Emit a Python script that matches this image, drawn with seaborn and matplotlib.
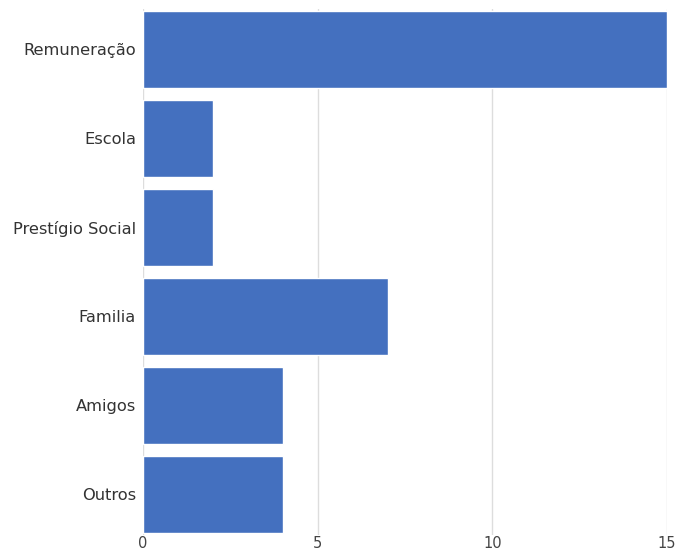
import numpy as np
import pandas as pd
import seaborn as sns
import matplotlib.pyplot as plt

categorias = ["Remuneração", "Escola", "Prestígio Social", "Familia", "Amigos", "Outros"]
valores = [15, 2, 2, 7, 4, 4]
xticks = [0, 5, 10, 15]

df = pd.DataFrame({"categoria": categorias, "valor": valores})

sns.set_theme(style="white")
plt.rcParams['font.family'] = ['DejaVu Sans']

fig = plt.figure(figsize=(6.79, 5.52), dpi=100)
ax = fig.add_axes([0.2106, 0.031, 0.7717, 0.953])

largura = 0.87
sns.barplot(data=df, x="valor", y="categoria", orient="h", color="#4470BF",
            saturation=1, width=largura, ax=ax, zorder=3)

ax.set_xlim(0, 15)
ax.set_ylim(len(categorias) - 1 + largura / 2 + 0.02, -largura / 2 - 0.02)
ax.set_xticks(xticks)
ax.xaxis.grid(True, color="#dddddd", linewidth=1, zorder=0)
ax.yaxis.grid(False)
for s in ax.spines.values():
    s.set_visible(False)
ax.tick_params(axis="y", length=0, pad=5, labelsize=11.7, labelcolor="#333333")
ax.tick_params(axis="x", length=0, pad=1, labelsize=10.5, labelcolor="#444444")
ax.set_xlabel("")
ax.set_ylabel("")

fig.savefig("out.png", dpi=100)
plt.close()
